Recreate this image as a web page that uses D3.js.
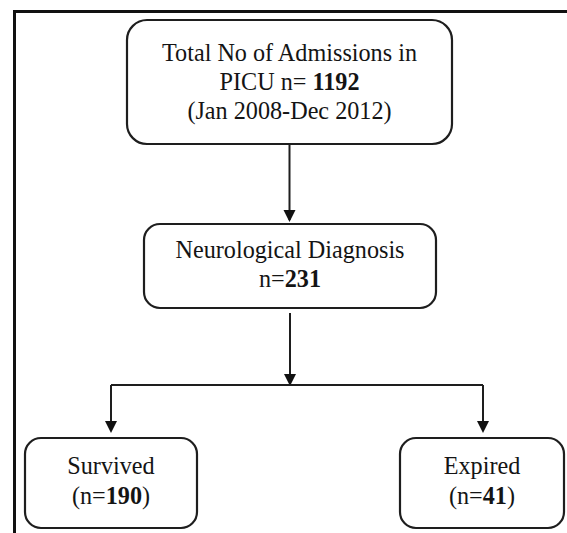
<!DOCTYPE html>
<html>
<head>
<meta charset="utf-8">
<script src="https://d3js.org/d3.v7.min.js"></script>
<style>
  html, body { margin: 0; padding: 0; background: #fff; }
  svg { display: block; }
  .box { fill: #fff; stroke: #1e1e1e; stroke-width: 2.2; }
  .link { fill: none; stroke: #1e1e1e; stroke-width: 2; }
  .head { fill: #111; }
  .label { font-family: "Liberation Serif", "Times New Roman", serif; font-size: 24.2px; fill: #141414; }
</style>
</head>
<body>
<div id="chart"></div>
<script>
const width = 567;
const height = 533;

// Flowchart data
const stageNames = ["Total No of Admissions in", "Neurological Diagnosis", "Survived", "Expired"];
const stageCounts = [1192, 231, 190, 41];
const countPrefix = ["PICU n= ", "n=", "(n=", "(n="];
const countSuffix = ["", "", ")", ")"];
const stagePeriod = ["(Jan 2008-Dec 2012)", null, null, null];
const flows = [
  { source: 0, target: 1 },
  { source: 1, target: 2 },
  { source: 1, target: 3 },
];

// layout (box frames, kept apart from the data)
const layout = [
  { x: 127, y: 20,  w: 325, h: 124, r: 20, lines: [61, 90, 119] },
  { x: 144, y: 224, w: 292, h: 84,  r: 16, lines: [258, 287] },
  { x: 25,  y: 438, w: 172, h: 90,  r: 16, lines: [474, 504] },
  { x: 400, y: 438, w: 164, h: 90,  r: 16, lines: [474, 504] },
];

const nodes = stageNames.map((name, i) => ({
  name,
  count: stageCounts[i],
  prefix: countPrefix[i],
  suffix: countSuffix[i],
  period: stagePeriod[i],
  ...layout[i],
  cx: layout[i].x + layout[i].w / 2,
}));

const svg = d3.select("#chart").append("svg")
  .attr("width", width)
  .attr("height", height);

// outer frame (left and top edges only are in view)
svg.append("path")
  .attr("d", d3.line()([[14.5, height], [14.5, 11.5], [width, 11.5]]))
  .attr("fill", "none")
  .attr("stroke", "#111")
  .attr("stroke-width", 3);

// connectors
const splitY = 385;
const gap = 5;
const line = d3.line();
const headLen = 12, headHalf = 6;

function arrowHead(x, y) {
  return line([[x - headHalf, y - headLen], [x + headHalf, y - headLen], [x, y]]) + "Z";
}

const g = svg.append("g");

// first flow: straight arrow
const f0 = nodes[flows[0].source], t0 = nodes[flows[0].target];
g.append("path").attr("class", "link")
  .attr("d", line([[f0.cx, f0.y + f0.h], [f0.cx, t0.y - 4]]));
g.append("path").attr("class", "head").attr("d", arrowHead(f0.cx, t0.y - 2));

// split flows
const parent = nodes[flows[1].source];
g.append("path").attr("class", "link")
  .attr("d", line([[parent.cx, parent.y + parent.h + gap], [parent.cx, splitY]]));
g.append("path").attr("class", "head").attr("d", arrowHead(parent.cx, splitY + 1));

const branchX = { 2: 111, 3: 483 };
g.append("path").attr("class", "link")
  .attr("d", line([[branchX[2], splitY], [branchX[3], splitY]]));

flows.slice(1).forEach(f => {
  const t = nodes[f.target];
  const bx = branchX[f.target];
  g.append("path").attr("class", "link")
    .attr("d", line([[bx, splitY], [bx, t.y - 7]]));
  g.append("path").attr("class", "head").attr("d", arrowHead(bx, t.y - 5));
});

// boxes
const box = svg.append("g")
  .selectAll("g")
  .data(nodes)
  .join("g");

box.append("rect")
  .attr("class", "box")
  .attr("x", d => d.x)
  .attr("y", d => d.y)
  .attr("width", d => d.w)
  .attr("height", d => d.h)
  .attr("rx", d => d.r)
  .attr("ry", d => d.r);

box.append("text")
  .attr("class", "label")
  .attr("text-anchor", "middle")
  .attr("x", d => d.cx)
  .attr("y", d => d.lines[0])
  .text(d => d.name);

const countLine = box.append("text")
  .attr("class", "label")
  .attr("text-anchor", "middle")
  .attr("x", d => d.cx)
  .attr("y", d => d.lines[1]);
countLine.append("tspan").text(d => d.prefix);
countLine.append("tspan").attr("font-weight", "bold").text(d => d.count);
countLine.append("tspan").text(d => d.suffix);

box.filter(d => d.period)
  .append("text")
  .attr("class", "label")
  .attr("text-anchor", "middle")
  .attr("x", d => d.cx)
  .attr("y", d => d.lines[2])
  .text(d => d.period);
</script>
</body>
</html>
